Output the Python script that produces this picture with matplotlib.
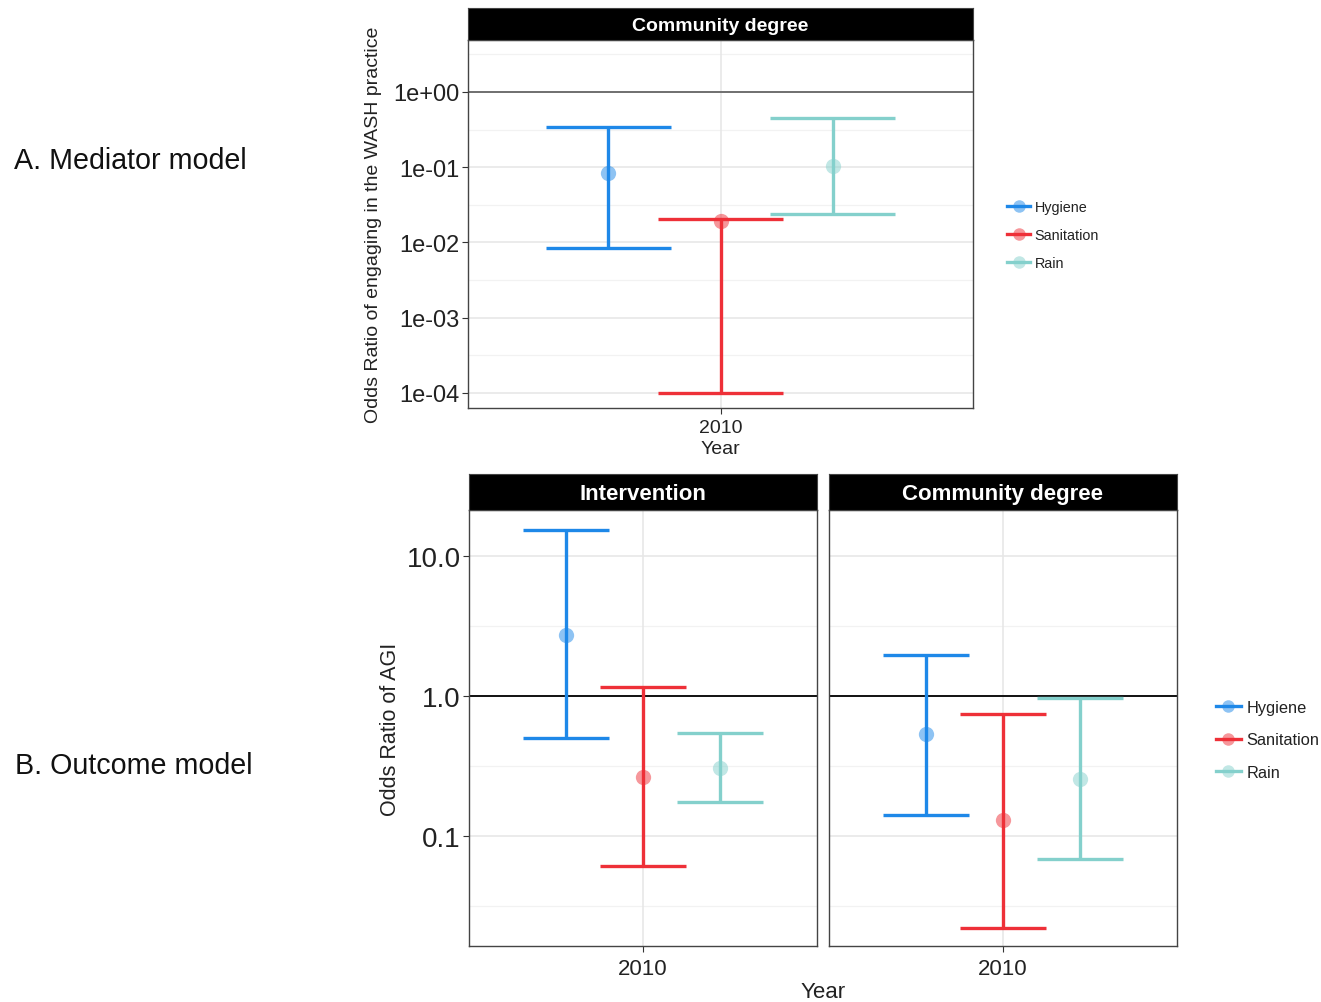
import numpy as np
import matplotlib
matplotlib.use("Agg")
import matplotlib.pyplot as plt
from matplotlib.lines import Line2D

plt.rcParams['font.family'] = ['Liberation Sans', 'DejaVu Sans']

# dados
grupos = ["Hygiene", "Sanitation", "Rain"]
cores = ["#1E88E8", "#EE3038", "#84D0CC"]
ano = "2010"

# A. modelo mediador (Community degree)
med_est = [0.084, 0.0193, 0.104]
med_lo = [0.0085, 1e-4, 0.024]
med_hi = [0.343, 0.0205, 0.45]

# B. modelo de desfecho
int_est = [2.73, 0.264, 0.306]
int_lo = [0.50, 0.061, 0.175]
int_hi = [15.3, 1.16, 0.544]

com_est = [0.535, 0.13, 0.255]
com_lo = [0.141, 0.022, 0.0685]
com_hi = [1.96, 0.743, 0.968]

med_ticks = [1e0, 1e-1, 1e-2, 1e-3, 1e-4]
med_ticklabels = ["1e+00", "1e-01", "1e-02", "1e-03", "1e-04"]
out_ticks = [10.0, 1.0, 0.1]
out_ticklabels = ["10.0", "1.0", "0.1"]

W, H = 1321, 1003
fig = plt.figure(figsize=(W / 100, H / 100), dpi=100)


def caixa(x0, y0, x1, y1):
    # pixel -> fracao da figura
    return [x0 / W, 1 - y1 / H, (x1 - x0) / W, (y1 - y0) / H]


def painel(ax, est, lo, hi, ylim, fs_tick, hcor, lw_cap):
    n = len(est)
    dodge = 0.8
    offs = (np.arange(n) - (n - 1) / 2) * dodge / n
    ax.set_yscale("log")
    ax.set_xlim(0.4, 1.6)
    ax.set_ylim(*ylim)
    lmin, lmax = np.log10(ylim[0]), np.log10(ylim[1])
    for k in np.arange(np.floor(lmin), np.ceil(lmax) + 1):
        if lmin < k < lmax:
            ax.axhline(10 ** k, color="#E6E6E6", lw=1.1, zorder=0)
        if lmin < k + 0.5 < lmax:
            ax.axhline(10 ** (k + 0.5), color="#F2F2F2", lw=0.9, zorder=0)
    ax.axvline(1, color="#E6E6E6", lw=1.1, zorder=0)
    ax.axhline(1, color=hcor, lw=1.3, zorder=1)
    for i in range(n):
        x = 1 + offs[i]
        ax.vlines(x, lo[i], hi[i], color=cores[i], lw=lw_cap, zorder=2)
        ax.hlines([lo[i], hi[i]], x - 0.148, x + 0.148, color=cores[i], lw=lw_cap, zorder=2)
        ax.plot(x, est[i], "o", ms=11, color=cores[i], alpha=0.5, mec="none", zorder=3)
    ax.set_xticks([1])
    ax.set_xticklabels([ano])
    ax.yaxis.set_minor_locator(matplotlib.ticker.NullLocator())
    ax.tick_params(axis="both", length=4, width=0.8, color="#333333",
                   labelsize=fs_tick, labelcolor="#222222", pad=2)
    for s in ax.spines.values():
        s.set_color("#444444")
        s.set_linewidth(1.0)


def faixa(pos, texto, fs):
    sax = fig.add_axes(pos)
    sax.set_facecolor("black")
    sax.set_xticks([])
    sax.set_yticks([])
    for s in sax.spines.values():
        s.set_color("#444444")
    sax.text(0.5, 0.45, texto, color="white", fontsize=fs, fontweight="bold",
             ha="center", va="center", transform=sax.transAxes)


# A. Mediator model
ax1 = fig.add_axes(caixa(468, 41, 973, 409))
painel(ax1, med_est, med_lo, med_hi, (10 ** -4.2, 10 ** 0.69), 17, "#666666", 2.4)
ax1.set_yticks(med_ticks)
ax1.set_yticklabels(med_ticklabels)
ax1.tick_params(axis="x", labelsize=14, pad=4)
ax1.set_xlabel("Year", fontsize=14, color="#222222", labelpad=3)
ax1.set_ylabel("Odds Ratio of engaging in the WASH practice", fontsize=14.0,
               color="#222222", labelpad=8)
faixa(caixa(468, 9, 973, 41), "Community degree", 14)

# B. Outcome model
ylim_b = (10 ** -1.786, 10 ** 1.329)
ax2 = fig.add_axes(caixa(469, 511, 817, 947))
painel(ax2, int_est, int_lo, int_hi, ylim_b, 20, "black", 2.4)
ax2.set_yticks(out_ticks)
ax2.set_yticklabels(out_ticklabels)
ax2.tick_params(axis="x", labelsize=16, pad=5)
ax2.set_ylabel("Odds Ratio of AGI", fontsize=15.5, color="#222222", labelpad=4)
faixa(caixa(469, 475, 817, 511), "Intervention", 16)

ax3 = fig.add_axes(caixa(829, 511, 1177, 947))
painel(ax3, com_est, com_lo, com_hi, ylim_b, 20, "black", 2.4)
ax3.set_yticks(out_ticks)
ax3.set_yticklabels([])
ax3.tick_params(axis="y", length=0)
ax3.tick_params(axis="x", labelsize=16, pad=5)
faixa(caixa(829, 475, 1177, 511), "Community degree", 16)

fig.text(823 / W, 1 - 993 / H, "Year", fontsize=16, color="#222222", ha="center", va="center")

# legendas
alcas = [Line2D([], [], color=c, lw=2.4, marker="o", ms=9,
                mfc=matplotlib.colors.to_rgba(c, 0.5), mec="none") for c in cores]
fig.legend(alcas, grupos, loc="center left", bbox_to_anchor=(1000 / W, 1 - 236 / H),
           frameon=False, fontsize=10.4, handlelength=1.6, handletextpad=0.3,
           labelspacing=0.95, borderpad=0, labelcolor="#222222")
fig.legend(alcas, grupos, loc="center left", bbox_to_anchor=(1208 / W, 1 - 741 / H),
           frameon=False, fontsize=11.8, handlelength=1.5, handletextpad=0.35,
           labelspacing=1.08, borderpad=0, labelcolor="#222222")

fig.text(14 / W, 1 - 161 / H, "A. Mediator model", fontsize=20.6, color="#111111", va="center")
fig.text(15 / W, 1 - 766 / H, "B. Outcome model", fontsize=20.6, color="#111111", va="center")

fig.savefig("out.png", dpi=100)
